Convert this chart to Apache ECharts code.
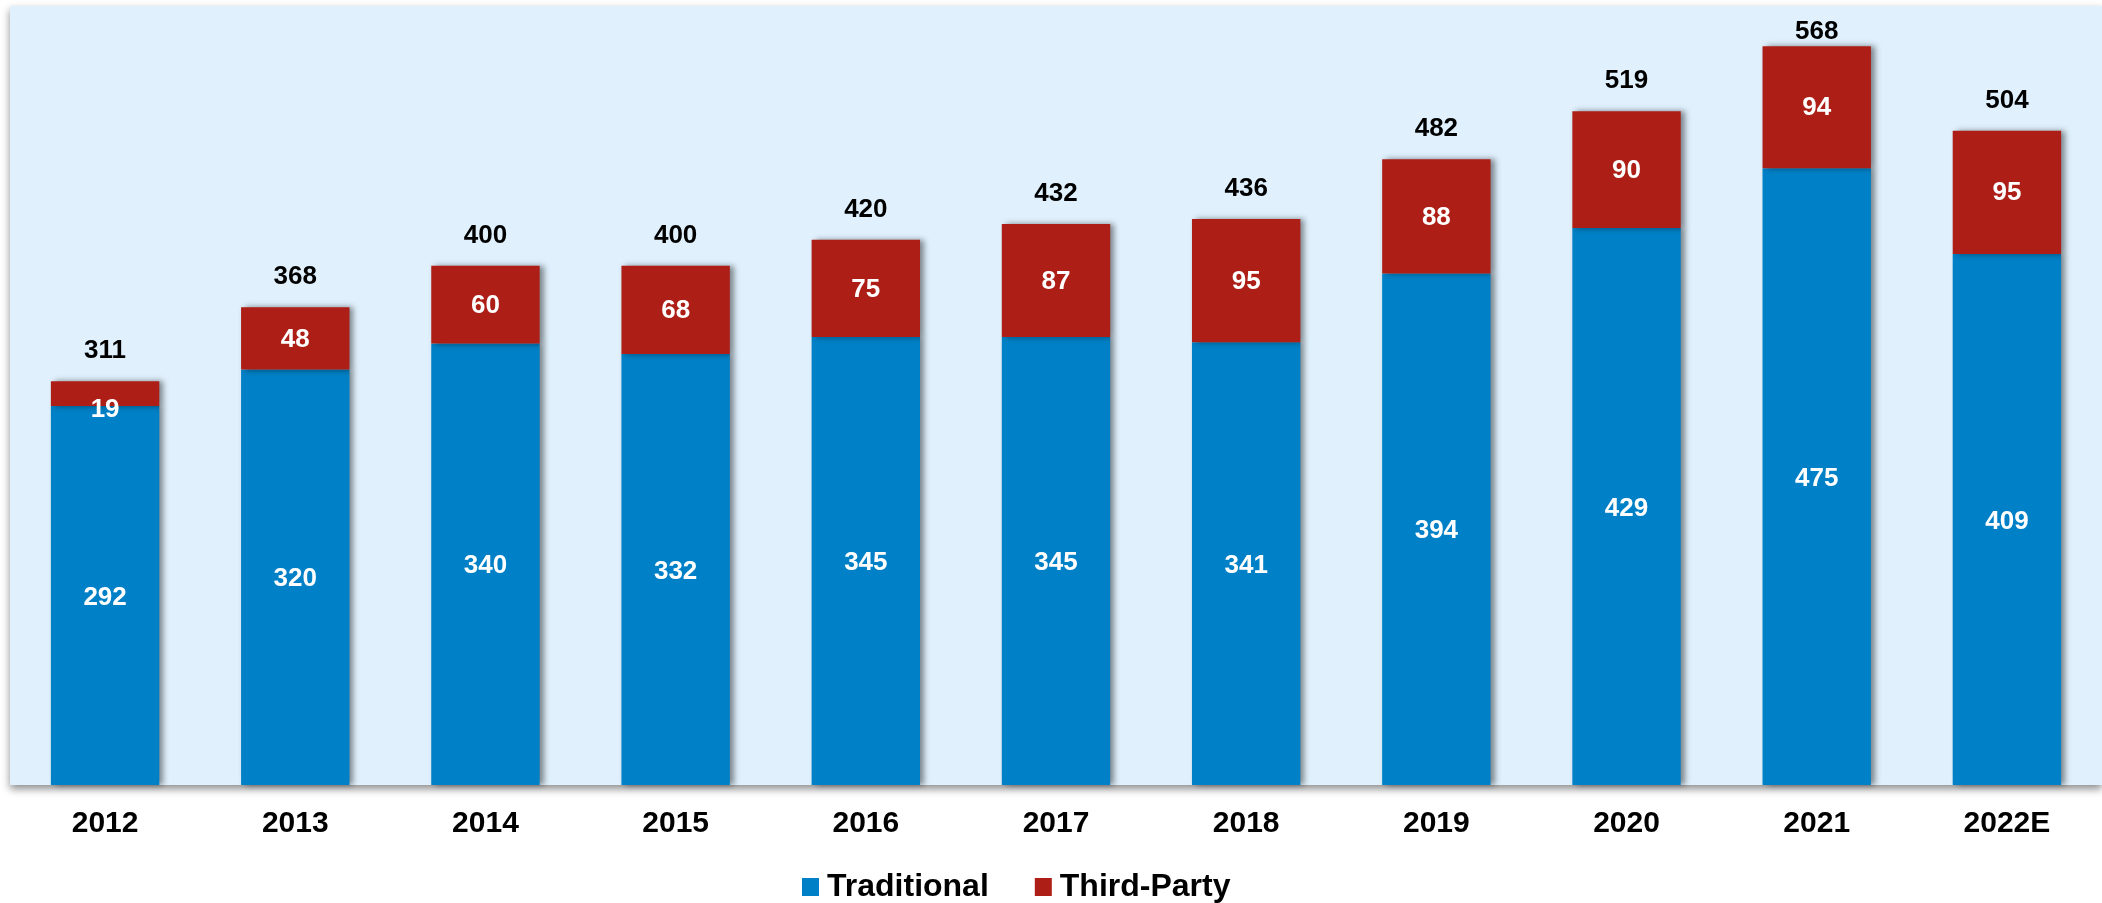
<!DOCTYPE html>
<html>
<head>
<meta charset="utf-8">
<script src="https://cdn.jsdelivr.net/npm/echarts@6/dist/echarts.min.js"></script>
<style>
html,body{margin:0;padding:0;background:#fff;}
#chart{width:2102px;height:903px;}
</style>
</head>
<body>
<div id="chart"></div>
<script>
const categories = ['2012','2013','2014','2015','2016','2017','2018','2019','2020','2021','2022E'];
const traditional = [292,320,340,332,345,345,341,394,429,475,409];
const thirdParty = [19,48,60,68,75,87,95,88,90,94,95];
const totals = [311,368,400,400,420,432,436,482,519,568,504];

const FONT = '"Liberation Sans", Arial, sans-serif';
const barShadow = {shadowColor:'rgba(0,0,0,0.45)', shadowBlur:6, shadowOffsetX:4, shadowOffsetY:0};

const chart = echarts.init(document.getElementById('chart'));
chart.setOption({
  animation:false,
  textStyle:{fontFamily:FONT},
  grid:{left:10, right:0, top:6, bottom:118, show:true, backgroundColor:'#E0F1FD', borderWidth:0,
        shadowColor:'rgba(0,0,0,0.45)', shadowBlur:8, shadowOffsetY:4, shadowOffsetX:0},
  legend:{
    data:['Traditional','Third-Party'],
    left:797, top:866,
    itemWidth:17, itemHeight:18, itemGap:46,
    icon:'rect',
    textStyle:{fontFamily:FONT, fontWeight:'bold', fontSize:32, color:'#000', padding:[0,0,0,3]}
  },
  xAxis:{
    type:'category', data:categories,
    axisLine:{show:false}, axisTick:{show:false},
    axisLabel:{fontFamily:FONT, fontWeight:'bold', fontSize:30, color:'#000', margin:24}
  },
  yAxis:{type:'value', min:0, max:600, show:false, splitLine:{show:false}},
  series:[
    {
      name:'Traditional', type:'bar', stack:'total', barWidth:'57%',
      data:traditional,
      itemStyle:Object.assign({color:'#0080C6'}, barShadow),
      label:{show:true, position:'inside', offset:[0,2], color:'#fff', fontWeight:'bold', fontSize:26, fontFamily:FONT}
    },
    {
      name:'Third-Party', type:'bar', stack:'total',
      data:thirdParty.map((v,i)=> i===0 ? {value:v, label:{offset:[0,16]}} : v),
      itemStyle:Object.assign({color:'#AD1F16'}, barShadow),
      label:{show:true, position:'inside', offset:[0,1], color:'#fff', fontWeight:'bold', fontSize:26, fontFamily:FONT}
    },
    {
      name:'Total', type:'scatter', symbolSize:0, silent:true,
      data:totals.map((v,i)=> i===9 ? {value:v, label:{distance:3}} : v),
      itemStyle:{opacity:1, color:'rgba(0,0,0,0)'},
      label:{show:true, position:'top', distance:17, color:'#000', fontWeight:'bold', fontSize:26, fontFamily:FONT}
    }
  ]
});
</script>
</body>
</html>
